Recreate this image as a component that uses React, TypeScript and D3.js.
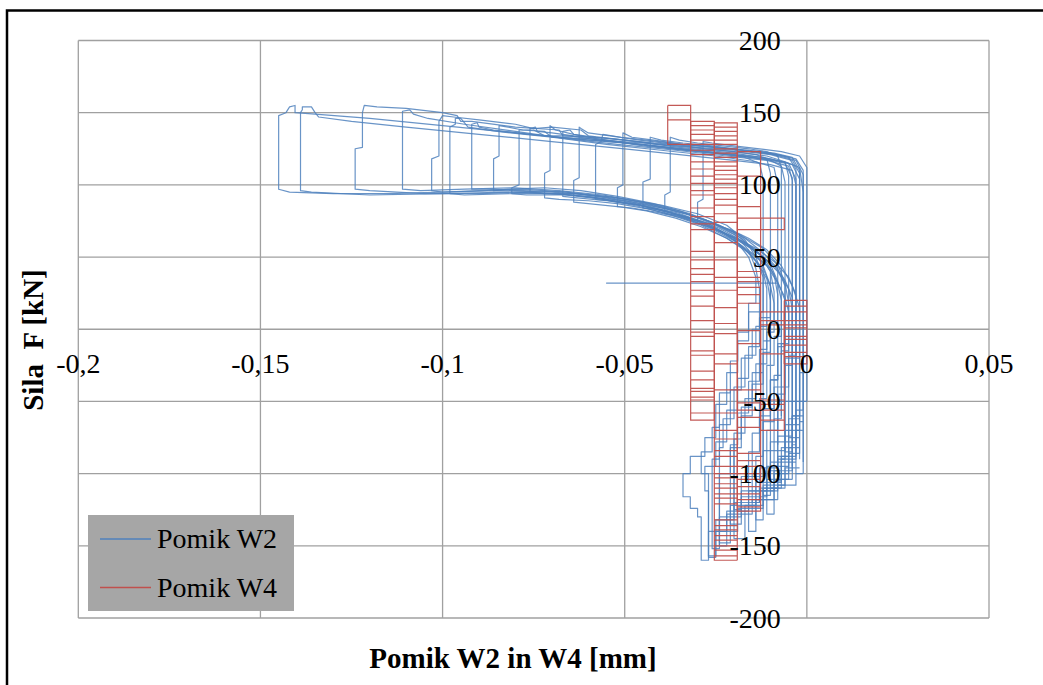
import * as d3 from 'd3';

const xTicks = [-0.2, -0.15, -0.1, -0.05, 0, 0.05];
const xTickLabels = ['-0,2', '-0,15', '-0,1', '-0,05', '0', '0,05'];
const yTicks = [200, 150, 100, 50, 0, -50, -100, -150, -200];
const yTickLabels = ['200', '150', '100', '50', '0', '-50', '-100', '-150', '-200'];
const seriesNames = ['Pomik W2', 'Pomik W4'];

// W2 (blue) - one array per load cycle, [displacement mm, force kN]
const w2Cycle1 = [[-0.001,-100],[-0.001,95],[-0.002,112],[-0.006,116],[-0.012,118],[-0.02,121],[-0.03,124],[-0.045,128],[-0.06,131],[-0.08,136],[-0.1,141],[-0.12,146],[-0.135,149],[-0.1405,150],[-0.1405,155],[-0.142,154],[-0.143,150],[-0.145,148],[-0.145,97],[-0.142,95],[-0.13,94],[-0.115,94],[-0.1,95],[-0.085,96],[-0.07,95],[-0.055,92],[-0.04,86],[-0.03,80],[-0.022,72],[-0.017,62],[-0.014,50],[-0.012,36],[-0.012,12],[-0.016,12],[-0.016,-8],[-0.019,-8],[-0.019,-30],[-0.022,-30],[-0.022,-52],[-0.025,-52],[-0.025,-75],[-0.028,-75],[-0.028,-88],[-0.032,-88],[-0.032,-100],[-0.034,-100],[-0.034,-116],[-0.032,-116],[-0.032,-124],[-0.03,-124],[-0.03,-130],[-0.029,-130],[-0.029,-160],[-0.027,-160],[-0.027,-140],[-0.022,-140],[-0.022,-128],[-0.015,-128],[-0.015,-118],[-0.008,-118],[-0.008,-108],[-0.003,-108],[-0.003,-100],[-0.001,-100]];
const w2Cycle2 = [[-0.003,-100],[-0.003,100],[-0.004,110],[-0.01,114],[-0.02,117],[-0.035,121],[-0.05,125],[-0.07,130],[-0.09,135],[-0.11,140],[-0.125,144],[-0.134,147],[-0.135,150],[-0.136,154],[-0.1385,154],[-0.1385,152],[-0.139,150],[-0.139,96],[-0.136,95],[-0.12,93],[-0.1,94],[-0.08,95],[-0.065,93],[-0.05,89],[-0.038,83],[-0.028,76],[-0.02,67],[-0.015,56],[-0.012,44],[-0.01,30],[-0.01,8],[-0.013,8],[-0.013,-12],[-0.016,-12],[-0.016,-34],[-0.019,-34],[-0.019,-56],[-0.022,-56],[-0.022,-78],[-0.025,-78],[-0.025,-95],[-0.028,-95],[-0.028,-112],[-0.027,-112],[-0.027,-158],[-0.025,-158],[-0.025,-132],[-0.02,-132],[-0.02,-120],[-0.013,-120],[-0.013,-110],[-0.006,-110],[-0.006,-96],[-0.002,-96]];
const w2Cycle3 = [[-0.006,-90],[-0.006,102],[-0.007,113],[-0.01,117],[-0.018,120],[-0.03,123],[-0.045,127],[-0.06,133],[-0.067,134],[-0.068,138],[-0.08,140],[-0.092,144],[-0.095,144],[-0.096,148],[-0.1,150],[-0.11,153],[-0.118,154],[-0.1215,155],[-0.122,150],[-0.122,126],[-0.124,125],[-0.124,97],[-0.12,96],[-0.105,94],[-0.09,94],[-0.075,95],[-0.06,92],[-0.048,87],[-0.036,81],[-0.027,73],[-0.02,63],[-0.016,50],[-0.014,36],[-0.014,18],[-0.016,18],[-0.016,-2],[-0.019,-2],[-0.019,-22],[-0.021,-22],[-0.021,-44],[-0.024,-44],[-0.024,-68],[-0.026,-68],[-0.026,-85],[-0.029,-85],[-0.029,-100],[-0.027,-100],[-0.027,-157],[-0.025,-157],[-0.025,-140],[-0.019,-140],[-0.019,-124],[-0.012,-124],[-0.012,-112],[-0.008,-112],[-0.008,-90],[-0.006,-90]];
const w2Cycle4 = [[-0.002,-90],[-0.002,104],[-0.004,114],[-0.01,118],[-0.02,122],[-0.035,126],[-0.05,131],[-0.06,134],[-0.062,138],[-0.07,140],[-0.075,139],[-0.08,142],[-0.09,145],[-0.097,147],[-0.1,148],[-0.101,144],[-0.101,120],[-0.103,118],[-0.103,96],[-0.1,95],[-0.09,96],[-0.078,97],[-0.066,95],[-0.055,91],[-0.043,85],[-0.033,78],[-0.025,70],[-0.018,61],[-0.012,50],[-0.009,38],[-0.008,24],[-0.008,4],[-0.01,4],[-0.01,-16],[-0.012,-16],[-0.012,-38],[-0.015,-38],[-0.015,-60],[-0.018,-60],[-0.018,-82],[-0.021,-82],[-0.021,-100],[-0.024,-100],[-0.024,-150],[-0.022,-150],[-0.022,-126],[-0.016,-126],[-0.016,-112],[-0.009,-112],[-0.009,-98],[-0.004,-98],[-0.004,-80],[-0.003,-80]];
const w2Cycle5 = [[-0.008,-80],[-0.008,100],[-0.009,112],[-0.014,116],[-0.025,120],[-0.04,124],[-0.055,128],[-0.07,133],[-0.085,137],[-0.093,140],[-0.095,146],[-0.0965,146],[-0.0965,142],[-0.098,140],[-0.098,94],[-0.094,93],[-0.08,94],[-0.068,94],[-0.058,91],[-0.046,86],[-0.036,80],[-0.027,72],[-0.02,62],[-0.015,51],[-0.012,40],[-0.011,28],[-0.011,2],[-0.014,2],[-0.014,-18],[-0.017,-18],[-0.017,-40],[-0.02,-40],[-0.02,-62],[-0.023,-62],[-0.023,-82],[-0.024,-82],[-0.024,-148],[-0.021,-148],[-0.021,-122],[-0.014,-122],[-0.014,-106],[-0.007,-106],[-0.007,-88],[-0.003,-88]];
const w2Cycle6 = [[-0.003,-88],[-0.003,104],[-0.005,115],[-0.012,119],[-0.024,122],[-0.038,126],[-0.05,129],[-0.06,132],[-0.07,133],[-0.072,137],[-0.078,138],[-0.082,140],[-0.0845,141],[-0.0845,120],[-0.086,118],[-0.086,96],[-0.082,97],[-0.072,98],[-0.062,96],[-0.052,92],[-0.042,87],[-0.032,80],[-0.024,72],[-0.017,63],[-0.012,53],[-0.008,42],[-0.006,30],[-0.006,-10],[-0.008,-10],[-0.008,-35],[-0.01,-35],[-0.01,-60],[-0.013,-60],[-0.013,-85],[-0.016,-85],[-0.016,-140],[-0.014,-140],[-0.014,-118],[-0.009,-118],[-0.009,-100],[-0.005,-100],[-0.005,-82],[-0.002,-82]];
const w2Cycle7 = [[-0.005,-82],[-0.005,106],[-0.006,116],[-0.011,120],[-0.02,123],[-0.032,126],[-0.045,129],[-0.057,131],[-0.065,134],[-0.072,134],[-0.075,138],[-0.079,138],[-0.079,100],[-0.081,98],[-0.081,94],[-0.077,93],[-0.066,93],[-0.056,90],[-0.046,85],[-0.037,79],[-0.029,72],[-0.022,63],[-0.016,53],[-0.012,42],[-0.01,30],[-0.009,18],[-0.009,6],[-0.011,6],[-0.011,-14],[-0.013,-14],[-0.013,-36],[-0.016,-36],[-0.016,-58],[-0.019,-58],[-0.019,-80],[-0.021,-80],[-0.021,-135],[-0.018,-135],[-0.018,-112],[-0.011,-112],[-0.011,-95],[-0.005,-95],[-0.005,-75],[-0.002,-75]];
const w2Cycle8 = [[-0.002,-75],[-0.002,108],[-0.004,117],[-0.01,121],[-0.02,124],[-0.03,126],[-0.04,128],[-0.05,131],[-0.058,133],[-0.064,135],[-0.069,138],[-0.0705,141],[-0.0705,110],[-0.072,108],[-0.072,91],[-0.068,90],[-0.06,89],[-0.052,87],[-0.043,83],[-0.035,78],[-0.027,71],[-0.02,63],[-0.014,54],[-0.009,44],[-0.006,34],[-0.004,22],[-0.004,-20],[-0.006,-20],[-0.006,-45],[-0.008,-45],[-0.008,-70],[-0.011,-70],[-0.011,-128],[-0.009,-128],[-0.009,-104],[-0.005,-104],[-0.005,-86],[-0.002,-86],[-0.002,-64],[-0.001,-64]];
const w2Cycle9 = [[-0.01,-64],[-0.01,108],[-0.011,118],[-0.014,121],[-0.02,123],[-0.028,125],[-0.036,128],[-0.046,131],[-0.054,134],[-0.06,136],[-0.062,139],[-0.0625,140],[-0.0625,105],[-0.064,103],[-0.064,88],[-0.06,87],[-0.052,85],[-0.044,82],[-0.036,77],[-0.029,71],[-0.022,63],[-0.016,54],[-0.011,44],[-0.008,32],[-0.007,20],[-0.007,-5],[-0.009,-5],[-0.009,-25],[-0.011,-25],[-0.011,-48],[-0.013,-48],[-0.013,-72],[-0.015,-72],[-0.015,-120],[-0.013,-120],[-0.013,-96],[-0.008,-96],[-0.008,-78],[-0.003,-78],[-0.003,-56],[-0.001,-56]];
const w2Cycle10 = [[-0.001,-56],[-0.001,110],[-0.003,118],[-0.008,121],[-0.015,123],[-0.024,126],[-0.034,128],[-0.044,131],[-0.051,133],[-0.056,135],[-0.0565,130],[-0.058,128],[-0.058,90],[-0.054,89],[-0.046,86],[-0.038,81],[-0.031,75],[-0.025,68],[-0.019,60],[-0.014,51],[-0.01,42],[-0.008,32],[-0.055,32],[-0.008,32],[-0.006,22],[-0.005,12],[-0.005,-10],[-0.007,-10],[-0.007,-32],[-0.009,-32],[-0.009,-55],[-0.012,-55],[-0.012,-115],[-0.01,-115],[-0.01,-92],[-0.006,-92],[-0.006,-70],[-0.002,-70]];
const w2Cycle11 = [[-0.002,-70],[-0.002,110],[-0.004,119],[-0.009,122],[-0.016,124],[-0.025,126],[-0.034,128],[-0.042,131],[-0.048,133],[-0.0505,136],[-0.0505,100],[-0.052,98],[-0.052,85],[-0.048,84],[-0.041,81],[-0.034,77],[-0.027,71],[-0.02,64],[-0.014,56],[-0.009,47],[-0.005,36],[-0.003,24],[-0.003,-18],[-0.005,-18],[-0.005,-40],[-0.007,-40],[-0.007,-62],[-0.009,-62],[-0.009,-105],[-0.007,-105],[-0.007,-82],[-0.004,-82],[-0.004,-60],[-0.001,-60]];
const w2Cycle12 = [[-0.007,-60],[-0.007,112],[-0.008,120],[-0.011,123],[-0.016,125],[-0.023,127],[-0.03,129],[-0.035,131],[-0.0375,133],[-0.0375,95],[-0.039,93],[-0.039,80],[-0.035,79],[-0.029,75],[-0.024,70],[-0.019,63],[-0.014,55],[-0.01,45],[-0.008,33],[-0.006,20],[-0.006,-12],[-0.008,-12],[-0.008,-35],[-0.01,-35],[-0.01,-98],[-0.008,-98],[-0.008,-74],[-0.004,-74],[-0.004,-50],[0,-50]];
const w2Cycle13 = [[0,-50],[0,112],[-0.002,120],[-0.007,123],[-0.013,125],[-0.02,127],[-0.026,129],[-0.0285,130],[-0.0285,90],[-0.03,88],[-0.03,75],[-0.026,73],[-0.021,69],[-0.016,63],[-0.011,55],[-0.007,44],[-0.004,30],[-0.002,15],[-0.002,-20],[-0.004,-20],[-0.004,-50],[-0.006,-50],[-0.006,-85],[-0.004,-85],[-0.004,-60],[-0.002,-60],[-0.002,-30],[0,-30],[0,100]];
const w2Cycle14 = [[-0.004,-95],[-0.004,103],[-0.005,113],[-0.011,117],[-0.022,120],[-0.036,124],[-0.052,128],[-0.066,132],[-0.08,137],[-0.094,142],[-0.104,146],[-0.108,149],[-0.109,152],[-0.111,151],[-0.111,97],[-0.106,96],[-0.094,97],[-0.08,98],[-0.068,96],[-0.056,93],[-0.045,88],[-0.035,82],[-0.026,74],[-0.02,66],[-0.016,55],[-0.014,42],[-0.013,28],[-0.013,0],[-0.015,0],[-0.015,-20],[-0.018,-20],[-0.018,-42],[-0.021,-42],[-0.021,-66],[-0.024,-66],[-0.024,-90],[-0.026,-90],[-0.026,-152],[-0.024,-152],[-0.024,-130],[-0.018,-130],[-0.018,-116],[-0.011,-116],[-0.011,-104],[-0.004,-104]];
const w2Cycle15 = [[-0.004,-104],[-0.004,105],[-0.006,115],[-0.012,118],[-0.022,121],[-0.036,125],[-0.05,129],[-0.064,132],[-0.076,135],[-0.086,138],[-0.09,140],[-0.0905,143],[-0.092,142],[-0.092,97],[-0.088,97],[-0.078,96],[-0.066,95],[-0.054,91],[-0.043,86],[-0.033,80],[-0.025,72],[-0.018,63],[-0.013,52],[-0.01,40],[-0.009,26],[-0.009,-2],[-0.011,-2],[-0.011,-24],[-0.014,-24],[-0.014,-48],[-0.017,-48],[-0.017,-72],[-0.02,-72],[-0.02,-145],[-0.017,-145],[-0.017,-122],[-0.012,-122],[-0.012,-108],[-0.006,-108],[-0.006,-92],[-0.003,-92]];
const w2Cycle16 = [[-0.001,-92],[-0.001,107],[-0.003,117],[-0.009,121],[-0.018,124],[-0.03,127],[-0.042,129],[-0.054,132],[-0.064,134],[-0.07,136],[-0.074,137],[-0.0745,140],[-0.076,139],[-0.076,95],[-0.072,94],[-0.062,94],[-0.052,91],[-0.042,86],[-0.033,80],[-0.025,73],[-0.018,65],[-0.012,56],[-0.008,45],[-0.006,32],[-0.005,18],[-0.005,-15],[-0.007,-15],[-0.007,-40],[-0.009,-40],[-0.009,-64],[-0.012,-64],[-0.012,-88],[-0.014,-88],[-0.014,-132],[-0.012,-132],[-0.012,-110],[-0.007,-110],[-0.007,-90],[-0.003,-90],[-0.003,-70],[-0.001,-70]];
const w2Cycle17 = [[-0.012,-70],[-0.012,104],[-0.013,115],[-0.017,119],[-0.025,122],[-0.036,125],[-0.048,129],[-0.058,132],[-0.064,135],[-0.065,138],[-0.067,137],[-0.067,92],[-0.063,91],[-0.055,89],[-0.046,86],[-0.038,81],[-0.03,75],[-0.023,67],[-0.018,58],[-0.014,47],[-0.011,35],[-0.01,20],[-0.01,-8],[-0.012,-8],[-0.012,-30],[-0.015,-30],[-0.015,-54],[-0.018,-54],[-0.018,-76],[-0.02,-76],[-0.02,-125],[-0.018,-125],[-0.018,-102],[-0.012,-102],[-0.012,-84],[-0.006,-84],[-0.006,-66],[-0.002,-66]];
const w2Cycle18 = [[-0.003,-66],[-0.003,111],[-0.005,119],[-0.01,122],[-0.017,124],[-0.026,127],[-0.034,129],[-0.04,131],[-0.043,133],[-0.043,104],[-0.045,102],[-0.045,84],[-0.041,83],[-0.035,79],[-0.029,74],[-0.023,67],[-0.017,59],[-0.012,50],[-0.008,40],[-0.005,28],[-0.004,14],[-0.004,-25],[-0.006,-25],[-0.006,-50],[-0.008,-50],[-0.008,-78],[-0.01,-78],[-0.01,-110],[-0.008,-110],[-0.008,-88],[-0.005,-88],[-0.005,-62],[-0.002,-62]];
const w2Cycles = [
  w2Cycle1, w2Cycle2, w2Cycle3, w2Cycle4, w2Cycle5, w2Cycle6, w2Cycle7, w2Cycle8, w2Cycle9,
  w2Cycle10, w2Cycle11, w2Cycle12, w2Cycle13, w2Cycle14, w2Cycle15, w2Cycle16, w2Cycle17, w2Cycle18,
];

// W4 (red) - the gauge reads in steps of ~0.0064 mm, so the trace jumps between these columns
const w4Columns = [-0.0382, -0.0319, -0.0254, -0.0191, -0.0127, -0.0062, 0.0];
// force levels (kN) where the trace jumps between neighbouring columns
const w4Rungs01 = [155, 145, 128];
const w4Rungs12 = [144, 141, 138, 135, 131, 128, 124, 121, 116, 111, 106, 101, 96, 93, 84, 78, 73, 69, 54, 48, 42, 38, 33, 27, 23, 16, 6, -2, -5, -15, -18, -29, -35, -41, -43, -47, -49, -58, -63];
const w4Rungs23 = [143, 140, 137, 134, 131, 128, 125, 122, 119, 116, 113, 110, 107, 104, 101, 98, 94, 90, 86, 80, 74, 60, 48, 36, 27, 15, 4, -3, -17, -24, -42, -58, -70, -76, -84, -88, -95, -100, -103, -107, -110, -114, -117, -121, -132, -136, -139, -143, -146, -150, -153, -157, -160];
const w4Rungs34 = [123, 106, 85, 77, 69, 40, 36, 33, 29, 24, 18, -1, -10, -42, -51, -56, -61, -68, -86, -91, -95, -100, -104, -109, -114, -118, -123, -126];
const w4Rungs45Top = [77, 69];
const w4Rungs45 = [12, 6, 3, -17, -49, -52, -56, -63, -70];
const w4Rungs56 = [20, 16, 12, 6, 3, 1, -5, -7, -11, -16, -19, -24];
const w4Ladders = [
  { col: 0, rungs: w4Rungs01 },
  { col: 1, rungs: w4Rungs12 },
  { col: 2, rungs: w4Rungs23 },
  { col: 3, rungs: w4Rungs34 },
  { col: 4, rungs: w4Rungs45Top },
  { col: 4, rungs: w4Rungs45 },
  { col: 5, rungs: w4Rungs56 },
];

const colors = ['#4F81BD', '#C0504D'];

function App() {
  const width = 1043;
  const height = 685;

  const x = d3.scaleLinear().domain([-0.2, 0.05]).range([78.3, 989]);
  const y = d3.scaleLinear().domain([-200, 200]).range([618, 40.5]);

  const line = d3
    .line<number[]>()
    .x((d) => x(d[0]))
    .y((d) => y(d[1]));

  // zig-zag between two columns plus the columns themselves
  const ladderPath = (col: number, rungs: number[]) => {
    const left = w4Columns[col];
    const right = w4Columns[col + 1];
    const pts: number[][] = [];
    rungs.forEach((r, i) => {
      if (i % 2 === 0) pts.push([left, r], [right, r]);
      else pts.push([right, r], [left, r]);
    });
    const top = d3.max(rungs) as number;
    const bottom = d3.min(rungs) as number;
    return (
      line(pts) +
      line([[left, top], [left, bottom]]) +
      line([[right, top], [right, bottom]])
    );
  };

  const x0 = x(0);
  const y0 = y(0);

  return (
    <svg
      width={width}
      height={height}
      style={{ position: 'absolute', left: 0, top: 0, background: '#fff' }}
      fontFamily="'Liberation Serif', 'Times New Roman', serif"
    >
      <rect x={7} y={10.5} width={1100} height={800} fill='none' stroke='#000' strokeWidth={2.5} />

      {/* grid */}
      <g stroke='#A0A0A0' strokeWidth={1.3}>
        {xTicks.map((t) => (
          <line key={'gx' + t} x1={x(t)} x2={x(t)} y1={y(200)} y2={y(-200)} />
        ))}
        {yTicks.map((t) => (
          <line key={'gy' + t} x1={x(-0.2)} x2={x(0.05)} y1={y(t)} y2={y(t)} />
        ))}
      </g>

      {/* W2 */}
      <g fill='none' stroke={colors[0]} strokeWidth={1.2} strokeOpacity={0.85} strokeLinejoin='round'>
        {w2Cycles.map((c, i) => (
          <path key={'w2' + i} d={line(c) ?? ''} />
        ))}
      </g>

      {/* W4 */}
      <g fill='none' stroke={colors[1]} strokeWidth={1.2} strokeOpacity={0.95}>
        {w4Ladders.map((l, i) => (
          <path key={'w4' + i} d={ladderPath(l.col, l.rungs)} />
        ))}
      </g>

      {/* tick labels */}
      <g fontSize={28} fill='#000'>
        {xTicks.map((t, i) => (
          <text key={'tx' + t} x={x(t)} y={y0 + 44} textAnchor='middle'>
            {xTickLabels[i]}
          </text>
        ))}
        {yTicks.map((t, i) => (
          <text key={'ty' + t} x={x0 - 26} y={y(t) + 9.5} textAnchor='end'>
            {yTickLabels[i]}
          </text>
        ))}
      </g>

      {/* axis titles */}
      <text x={513} y={668} textAnchor='middle' fontSize={29} fontWeight='bold'>
        Pomik W2 in W4 [mm]
      </text>
      <text
        transform='translate(43,340) rotate(-90)'
        textAnchor='middle'
        fontSize={29}
        fontWeight='bold'
        style={{ whiteSpace: 'pre' }}
      >
        {'Sila  F [kN]'}
      </text>

      {/* legend */}
      <rect x={88} y={515} width={206} height={96} fill='#A6A6A6' />
      {seriesNames.map((s, i) => (
        <g key={s}>
          <line x1={100} x2={151} y1={539 + i * 48.5} y2={539 + i * 48.5} stroke={colors[i]} strokeWidth={1.5} />
          <text x={157} y={548 + i * 48.5} fontSize={28}>
            {s}
          </text>
        </g>
      ))}
    </svg>
  );
}

export default App;
